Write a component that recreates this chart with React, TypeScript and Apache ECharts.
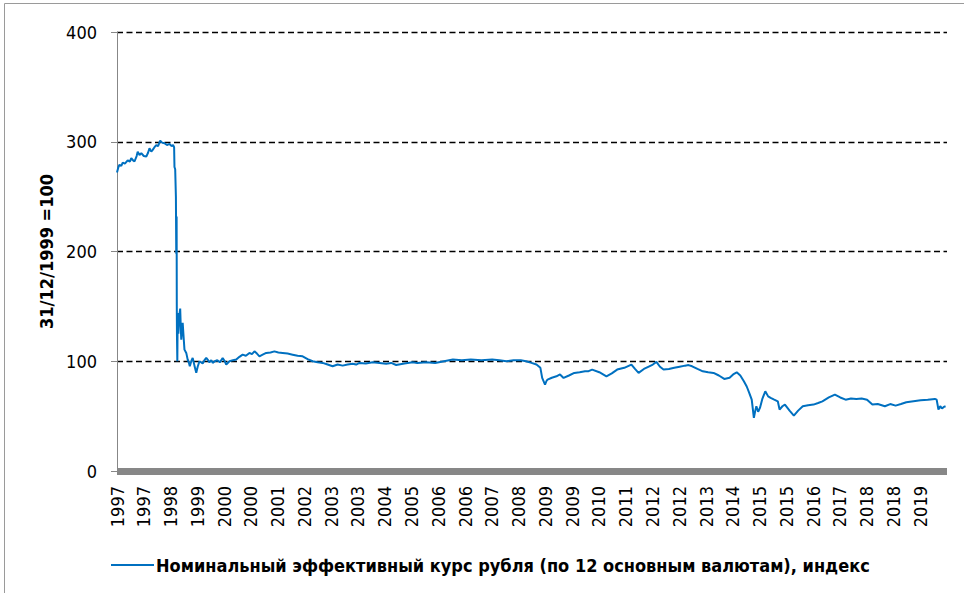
import React, { useEffect, useRef } from "react";
import * as echarts from "echarts";

const BASE_YEAR = 1997;

// decimal years
const dates = [
  1997.0, 1997.04, 1997.07, 1997.12, 1997.16, 1997.22, 1997.3, 1997.36, 1997.4, 1997.45,
  1997.49, 1997.55, 1997.58, 1997.63, 1997.68, 1997.75, 1997.82, 1997.87, 1997.91, 1997.96,
  1998.0, 1998.05, 1998.1, 1998.15, 1998.21, 1998.27, 1998.33, 1998.4, 1998.47, 1998.53,
  1998.57, 1998.6, 1998.61, 1998.63, 1998.65, 1998.66, 1998.67, 1998.675, 1998.68, 1998.69,
  1998.7, 1998.72, 1998.74, 1998.77, 1998.79, 1998.8, 1998.82, 1998.84, 1998.87, 1998.89,
  1998.94, 1998.98, 1999.02, 1999.04, 1999.08, 1999.12, 1999.17, 1999.22, 1999.26, 1999.31,
  1999.36, 1999.4, 1999.45, 1999.5, 1999.55, 1999.59, 1999.64, 1999.68, 1999.74, 1999.81,
  1999.88, 1999.96, 2000.02, 2000.06, 2000.15, 2000.25, 2000.34, 2000.43, 2000.52, 2000.61,
  2000.71, 2000.78, 2000.85, 2000.92, 2000.99, 2001.08, 2001.18, 2001.3, 2001.41, 2001.52,
  2001.64, 2001.78, 2001.92, 2002.06, 2002.2, 2002.34, 2002.48, 2002.62, 2002.76, 2002.9,
  2003.04, 2003.18, 2003.32, 2003.46, 2003.6, 2003.7, 2003.79, 2003.97, 2004.16, 2004.35,
  2004.54, 2004.68, 2004.82, 2005.05, 2005.28, 2005.41, 2005.66, 2005.91, 2006.16, 2006.41,
  2006.66, 2006.91, 2007.21, 2007.51, 2007.71, 2007.91, 2008.11, 2008.31, 2008.46, 2008.61,
  2008.75, 2008.86, 2008.91, 2008.99, 2009.03, 2009.06, 2009.18, 2009.31, 2009.41, 2009.51,
  2009.66, 2009.81, 2009.96, 2010.11, 2010.21, 2010.31, 2010.51, 2010.71, 2010.86, 2011.01,
  2011.21, 2011.41, 2011.51, 2011.61, 2011.76, 2011.91, 2012.01, 2012.11, 2012.21, 2012.31,
  2012.46, 2012.61, 2012.76, 2012.91, 2013.01, 2013.11, 2013.26, 2013.41, 2013.56, 2013.71,
  2013.86, 2014.01, 2014.16, 2014.26, 2014.36, 2014.46, 2014.56, 2014.64, 2014.71, 2014.78,
  2014.84, 2014.88, 2014.91, 2014.96, 2015.01, 2015.08, 2015.16, 2015.24, 2015.31, 2015.41,
  2015.51, 2015.56, 2015.64, 2015.71, 2015.84, 2015.96, 2016.08, 2016.21, 2016.36, 2016.51,
  2016.64, 2016.76, 2016.94, 2017.11, 2017.26, 2017.41, 2017.56, 2017.71, 2017.86, 2018.01,
  2018.16, 2018.31, 2018.51, 2018.66, 2018.81, 2018.96, 2019.11, 2019.31, 2019.51, 2019.71,
  2019.91, 2019.96, 2020.01, 2020.06, 2020.11, 2020.16, 2020.21,
];

const values = [
  272, 277, 279, 278, 281, 280, 283, 282, 285, 283,
  282, 287, 291, 288, 289.6, 287, 286.5, 290, 294, 291,
  292.6, 295, 297, 296, 301, 299, 298.7, 297, 298, 296,
  297, 295, 277, 275, 250, 198, 232, 150, 123, 100,
  144, 125, 140, 148, 128, 119.7, 130, 135, 120, 110.6,
  107.6, 101.5, 98, 95.4, 100, 103, 96, 89.4, 95, 100,
  99, 98, 101, 103, 101, 99, 101, 98.5, 100, 101,
  99, 103, 100, 97, 100, 101, 101.5, 104, 106, 105,
  107.6, 106.5, 109, 107, 104.5, 106, 107.6, 108, 109, 108,
  107.6, 107, 106, 105, 104.5, 102, 100, 99, 98.5, 97,
  95.4, 97, 96, 97, 97.8, 97, 98.5, 98, 99, 98.5,
  97.8, 98.5, 96.6, 98, 99, 98.5, 99, 98.5, 100, 101.5,
  101, 101.5, 101, 101.5, 101, 100, 101, 100.9, 100, 98.5,
  97, 94, 84.8, 78.7, 82, 83.3, 85, 86.3, 88, 84.8,
  87, 89.4, 90, 90.8, 91, 92.4, 90, 86.3, 89, 92.4,
  94, 97, 93, 89.4, 93, 95.4, 97, 99.4, 95, 92.4,
  93, 94, 95, 96, 96.5, 95.4, 93, 90.8, 90, 89.4,
  87, 83.9, 85, 88, 89.9, 87, 81.7, 77, 71.2, 65,
  48.4, 55, 59, 54, 57.5, 66, 72.6, 68, 66.6, 65,
  63.5, 56, 59, 60.5, 55, 50.5, 55, 59, 60, 60.5,
  62, 63.5, 67, 69.6, 67, 65, 66, 65.7, 66, 65,
  60.5, 61, 59, 61, 59.6, 61, 62.6, 63.5, 64.4, 65,
  65.7, 65, 56, 59, 57, 58.4, 59,
];

const yTicks = [0, 100, 200, 300, 400];
const seriesName = "Номинальный эффективный курс рубля (по 12 основным валютам), индекс";
const yAxisTitle = "31/12/1999 =100";

const FONT = "'DejaVu Sans Condensed', 'DejaVu Sans', sans-serif";

export default function App() {
  const ref = useRef<HTMLDivElement>(null);

  useEffect(() => {
    const chart = echarts.init(ref.current!, null, { renderer: "svg" });
    const data = dates.map((d, i) => [d - BASE_YEAR, values[i]]);
    chart.setOption({
      animation: false,
      backgroundColor: "#ffffff",
      graphic: [
        {
          type: "rect",
          silent: true,
          z: -10,
          shape: { x: 4.5, y: 3.5, width: 1000, height: 1000 },
          style: { fill: "none", stroke: "#9a9a9a", lineWidth: 1 },
        },
      ],
      grid: { left: 117, right: 17, top: 32, bottom: 122, containLabel: false },
      legend: {
        show: true,
        left: 106,
        top: 551,
        icon: "rect",
        itemWidth: 43,
        itemHeight: 2,
        itemGap: 10,
        textStyle: {
          fontFamily: FONT,
          fontSize: 18,
          fontWeight: "bold",
          color: "#000",
          padding: [0, 0, 0, -3],
        },
        data: [seriesName],
      },
      xAxis: {
        type: "value",
        min: 0,
        max: 23.25,
        interval: 0.75,
        offset: 4,
        axisLine: { show: true, lineStyle: { color: "#878787", width: 7, cap: "butt" } },
        axisTick: { show: false },
        splitLine: { show: false },
        axisLabel: {
          rotate: 90,
          margin: 11,
          showMaxLabel: false,
          fontFamily: FONT,
          fontSize: 18,
          color: "#000",
          formatter: (v: number) => String(Math.floor(BASE_YEAR + v + 1e-6)),
        },
      },
      yAxis: {
        type: "value",
        min: yTicks[0],
        max: yTicks[yTicks.length - 1],
        interval: 100,
        name: yAxisTitle,
        nameLocation: "middle",
        nameRotate: 90,
        nameGap: 60,
        nameTextStyle: { fontFamily: FONT, fontSize: 18, fontWeight: "bold", color: "#000" },
        axisLine: { show: true, lineStyle: { color: "#878787", width: 1 } },
        axisTick: { show: true, length: 6, lineStyle: { color: "#878787" } },
        splitLine: { show: true, lineStyle: { color: "#000", type: [6, 3.5], width: 1.4 } },
        axisLabel: { margin: 20, fontFamily: FONT, fontSize: 18, color: "#000" },
      },
      series: [
        {
          name: seriesName,
          type: "line",
          data,
          symbol: "none",
          lineStyle: { color: "#0070C0", width: 2 },
          itemStyle: { color: "#0070C0" },
        },
      ],
    });
    return () => chart.dispose();
  }, []);

  return (
    <div
      ref={ref}
      style={{ position: "fixed", left: 0, top: 0, width: 964, height: 593, background: "#fff" }}
    />
  );
}
